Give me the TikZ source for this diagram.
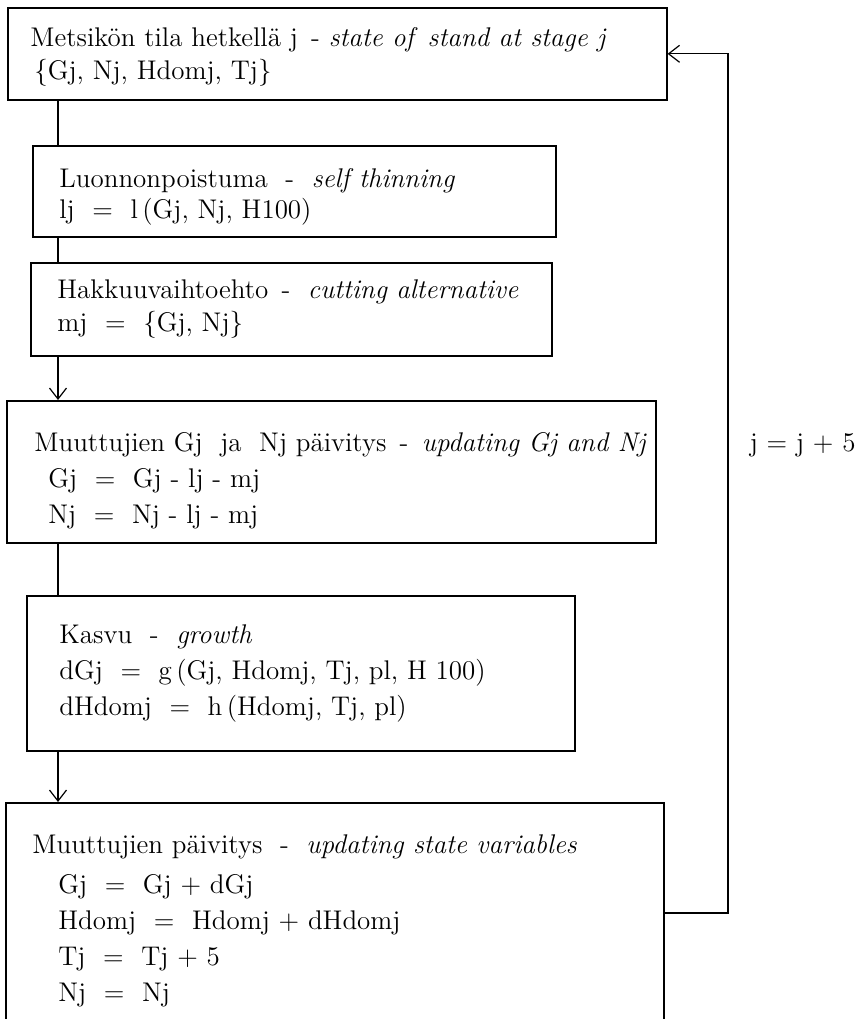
\documentclass[tikz,border=0pt]{standalone}
\usetikzlibrary{arrows.meta,positioning}

\begin{document}
\begin{tikzpicture}[x=0.5pt, y=-0.5pt,
  stagebox/.style={draw, line width=0.8pt, fill=white, anchor=north west, inner sep=0pt},
  stagetext/.style={align=left, inner sep=0pt, font=\fontsize{13.5}{18}\selectfont},
  flow/.style={line width=0.6pt, -{Straight Barb[length=5.5pt,width=8.5pt]}},
  link/.style={line width=0.6pt}]

\useasboundingbox (0,0) rectangle (859,1019);
\clip (0,0) rectangle (859,1019);

\node[stagebox, minimum width=329.5pt, minimum height=46pt] (state) at (7,7) {};
\node[stagebox, minimum width=261.5pt, minimum height=45.5pt] (thin) at (32,145) {};
\node[stagebox, minimum width=260.5pt, minimum height=46.5pt] (cut) at (30,262) {};
\node[stagebox, minimum width=324.5pt, minimum height=71pt] (update) at (6,400) {};
\node[stagebox, minimum width=274pt, minimum height=77.5pt] (growth) at (26,595) {};
\node[stagebox, minimum width=329pt, minimum height=118pt] (final) at (5,802) {};

\node[stagetext, font=\fontsize{13.5}{16.5}\selectfont, right=11.5pt of state.west, yshift=-1.5pt] (statetext)
  {Metsikön tila hetkellä j \,- \textit{state of\, stand at stage j}\\
   \hspace*{2pt}\{Gj, Nj, Hdomj, Tj\}};
\node[stagetext, font=\fontsize{13.5}{15.5}\selectfont, right=13.5pt of thin.west, yshift=-3pt] (thintext)
  {Luonnonpoistuma \ - \ \textit{self thinning}\\
   lj \ = \ l\,(Gj, Nj, H100)};
\node[stagetext, font=\fontsize{13.5}{16.5}\selectfont, right=13.5pt of cut.west] (cuttext)
  {Hakkuuvaihtoehto \,- \ \textit{cutting alternative}\\
   mj \ = \ \{Gj, Nj\}};
\node[stagetext, right=14pt of update.west, yshift=-4.5pt] (updatetext)
  {Muuttujien Gj \ ja \ Nj päivitys \,- \,\textit{updating Gj and Nj}\\
   \hspace*{7pt}Gj \ = \ Gj - lj - mj\\
   \hspace*{7pt}Nj \ = \ Nj - lj - mj};
\node[stagetext, right=16.5pt of growth.west] (growthtext)
  {Kasvu \ - \ \textit{growth}\\
   dGj \ = \ g\,(Gj, Hdomj, Tj, pl, H 100)\\
   dHdomj \ = \ h\,(Hdomj, Tj, pl)};
\node[stagetext, right=13.5pt of final.west] (finaltext)
  {Muuttujien päivitys \ - \ \textit{updating state variables}\\[2pt]
   \hspace*{13pt}Gj \ = \ Gj + dGj\\
   \hspace*{13pt}Hdomj \ = \ Hdomj + dHdomj\\
   \hspace*{13pt}Tj \ = \ Tj + 5\\
   \hspace*{13pt}Nj \ = \ Nj};

\node[stagetext, anchor=east] (incr) at (856,445) {j = j + 5};

\coordinate (spine) at (58,0);
\coordinate (loop) at (728,0);

\draw[link] (spine |- state.south) -- (spine |- thin.north);
\draw[link] (spine |- thin.south) -- (spine |- cut.north);
\draw[flow] (spine |- cut.south) -- (spine |- update.north);
\draw[link] (spine |- update.south) -- (spine |- growth.north);
\draw[flow] (spine |- growth.south) -- (spine |- final.north);
\draw[flow] ([yshift=-55.5pt]final.north east) -| (loop |- state.east) -- (state.east);

\end{tikzpicture}
\end{document}
